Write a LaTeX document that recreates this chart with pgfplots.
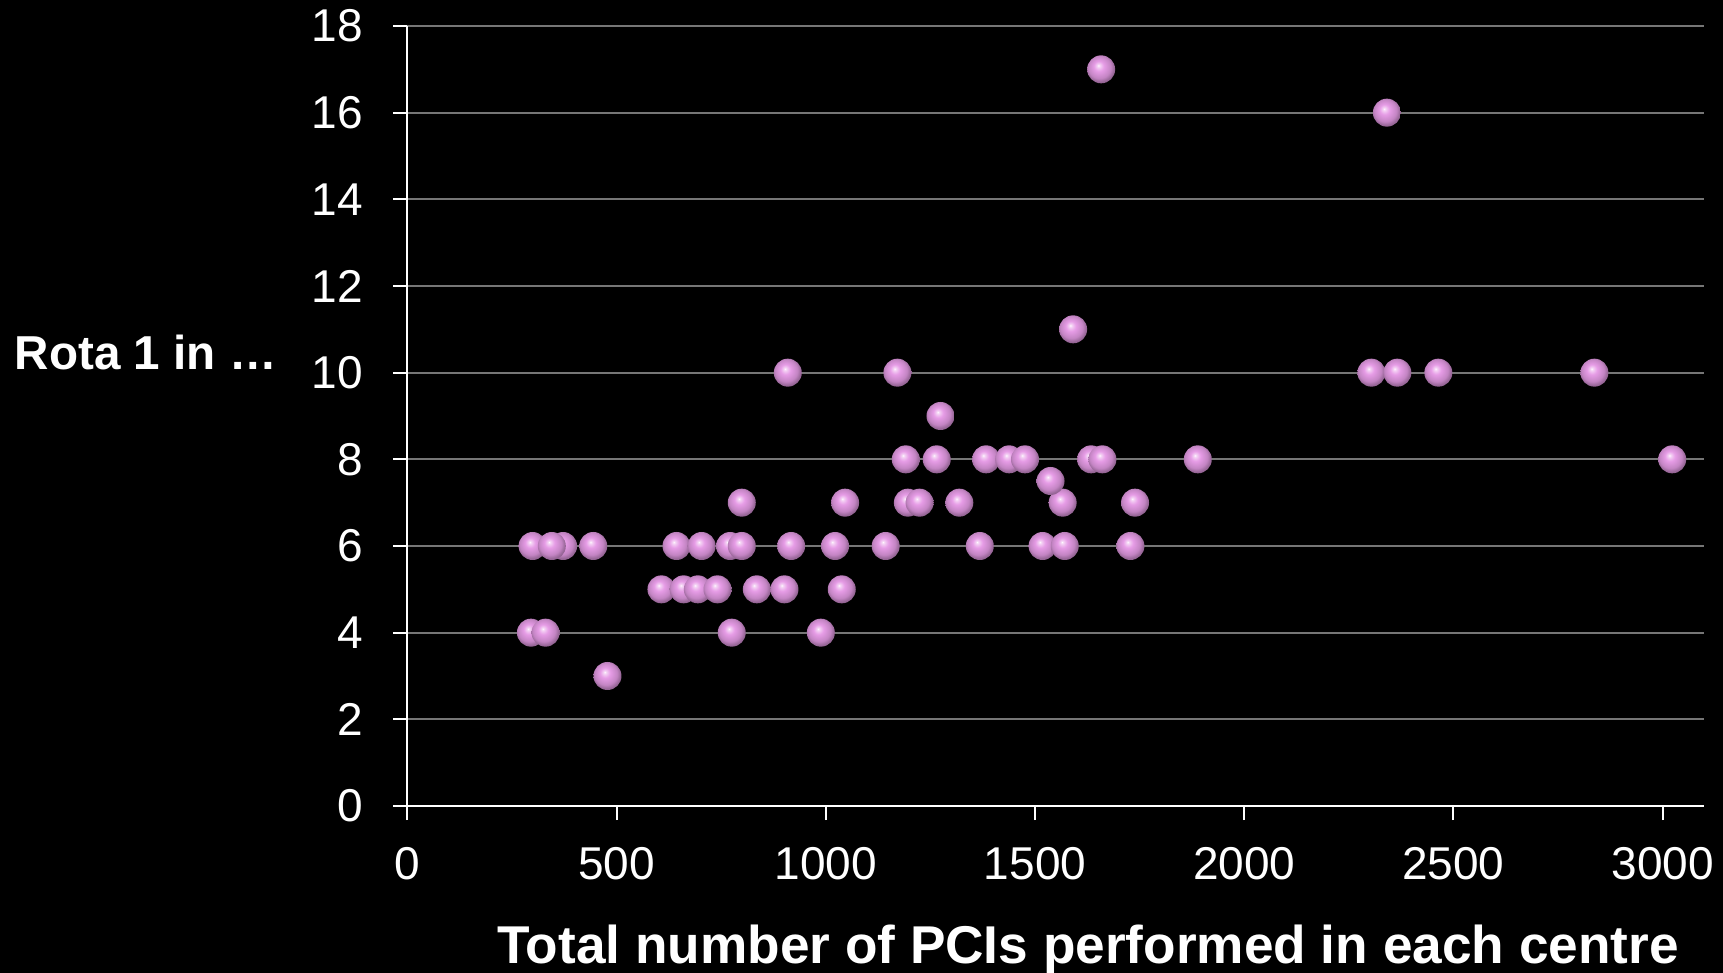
\documentclass[border=0pt]{standalone}
\usepackage{fontspec}
\setmainfont{Liberation Sans}
\usepackage{pgfplots}
\pgfplotsset{compat=1.18}

\definecolor{ballpink}{RGB}{230,156,230}
\definecolor{gridgray}{RGB}{118,118,118}

% shaded sphere used as plot mark
\pgfdeclareradialshading{pinkball}{\pgfqpoint{-5bp}{7bp}}{%
  color(0bp)=(white); color(2bp)=(white!60!ballpink); color(9bp)=(ballpink);
  color(20bp)=(ballpink!85!black); color(26bp)=(ballpink!65!black); color(50bp)=(ballpink!65!black)}
\pgfdeclareplotmark{pinkball}{%
  \pgfpathcircle{\pgfpointorigin}{\pgfplotmarksize}%
  \pgfshadepath{pinkball}{0}%
  \pgfusepath{discard}}

\begin{document}
\begin{tikzpicture}
\fill[black] (0,0) rectangle (861.5pt,486.5pt);
\begin{axis}[
  at={(203.75pt,83.5pt)}, anchor=south west,
  scale only axis,
  width=648.25pt, height=390pt,
  xmin=0, xmax=3099, ymin=0, ymax=18,
  xtick={0,500,...,3000},
  ytick={0,2,...,18},
  axis x line*=bottom, axis y line*=left,
  axis line style={white, line width=1pt},
  tick align=outside,
  major tick length=7pt,
  tick style={white, line width=1pt},
  ymajorgrids,
  major grid style={gridgray, line width=1pt},
  ticklabel style={white, font=\fontsize{23}{27}\selectfont},
  xticklabel style={anchor=north, inner sep=0pt, yshift=-13.5pt},
  yticklabel style={anchor=east, inner sep=0pt, xshift=-15pt},
  /pgf/number format/assume math mode=true,
  /pgf/number format/1000 sep={},
  scaled x ticks=false,
  xlabel={Total number of PCIs performed in each centre},
  xlabel style={white, font=\fontsize{26.6}{30}\selectfont\bfseries,
    at={(axis description cs:0.5249,-0.2013)}, anchor=base},
  ylabel={Rota 1 in …},
  ylabel style={white, font=\fontsize{23.8}{28}\selectfont\bfseries, rotate=-90,
    at={(axis description cs:-0.3082,0.559)}, anchor=base west},
  clip=false,
]
\addplot[only marks, mark=pinkball, mark size=7pt] coordinates {
  (478,3)
  (295,4) (330,4) (775,4) (988,4)
  (607,5) (660,5) (694,5) (741,5) (835,5) (901,5) (1038,5)
  (299,6) (372,6) (345,6) (444,6) (643,6) (703,6) (771,6) (799,6) (917,6)
  (1022,6) (1143,6) (1368,6) (1518,6) (1571,6) (1728,6)
  (799,7) (1046,7) (1196,7) (1224,7) (1319,7) (1566,7) (1739,7)
  (1537,7.5)
  (1191,8) (1265,8) (1383,8) (1438,8) (1476,8) (1634,8) (1661,8) (1889,8) (3023,8)
  (1274,9)
  (909,10) (1171,10) (2304,10) (2366,10) (2464,10) (2837,10)
  (1591,11)
  (2341,16)
  (1658,17)
};
\end{axis}
\pgfresetboundingbox
\path (0,0) rectangle (861.5pt,486.5pt);
\end{tikzpicture}
\end{document}
